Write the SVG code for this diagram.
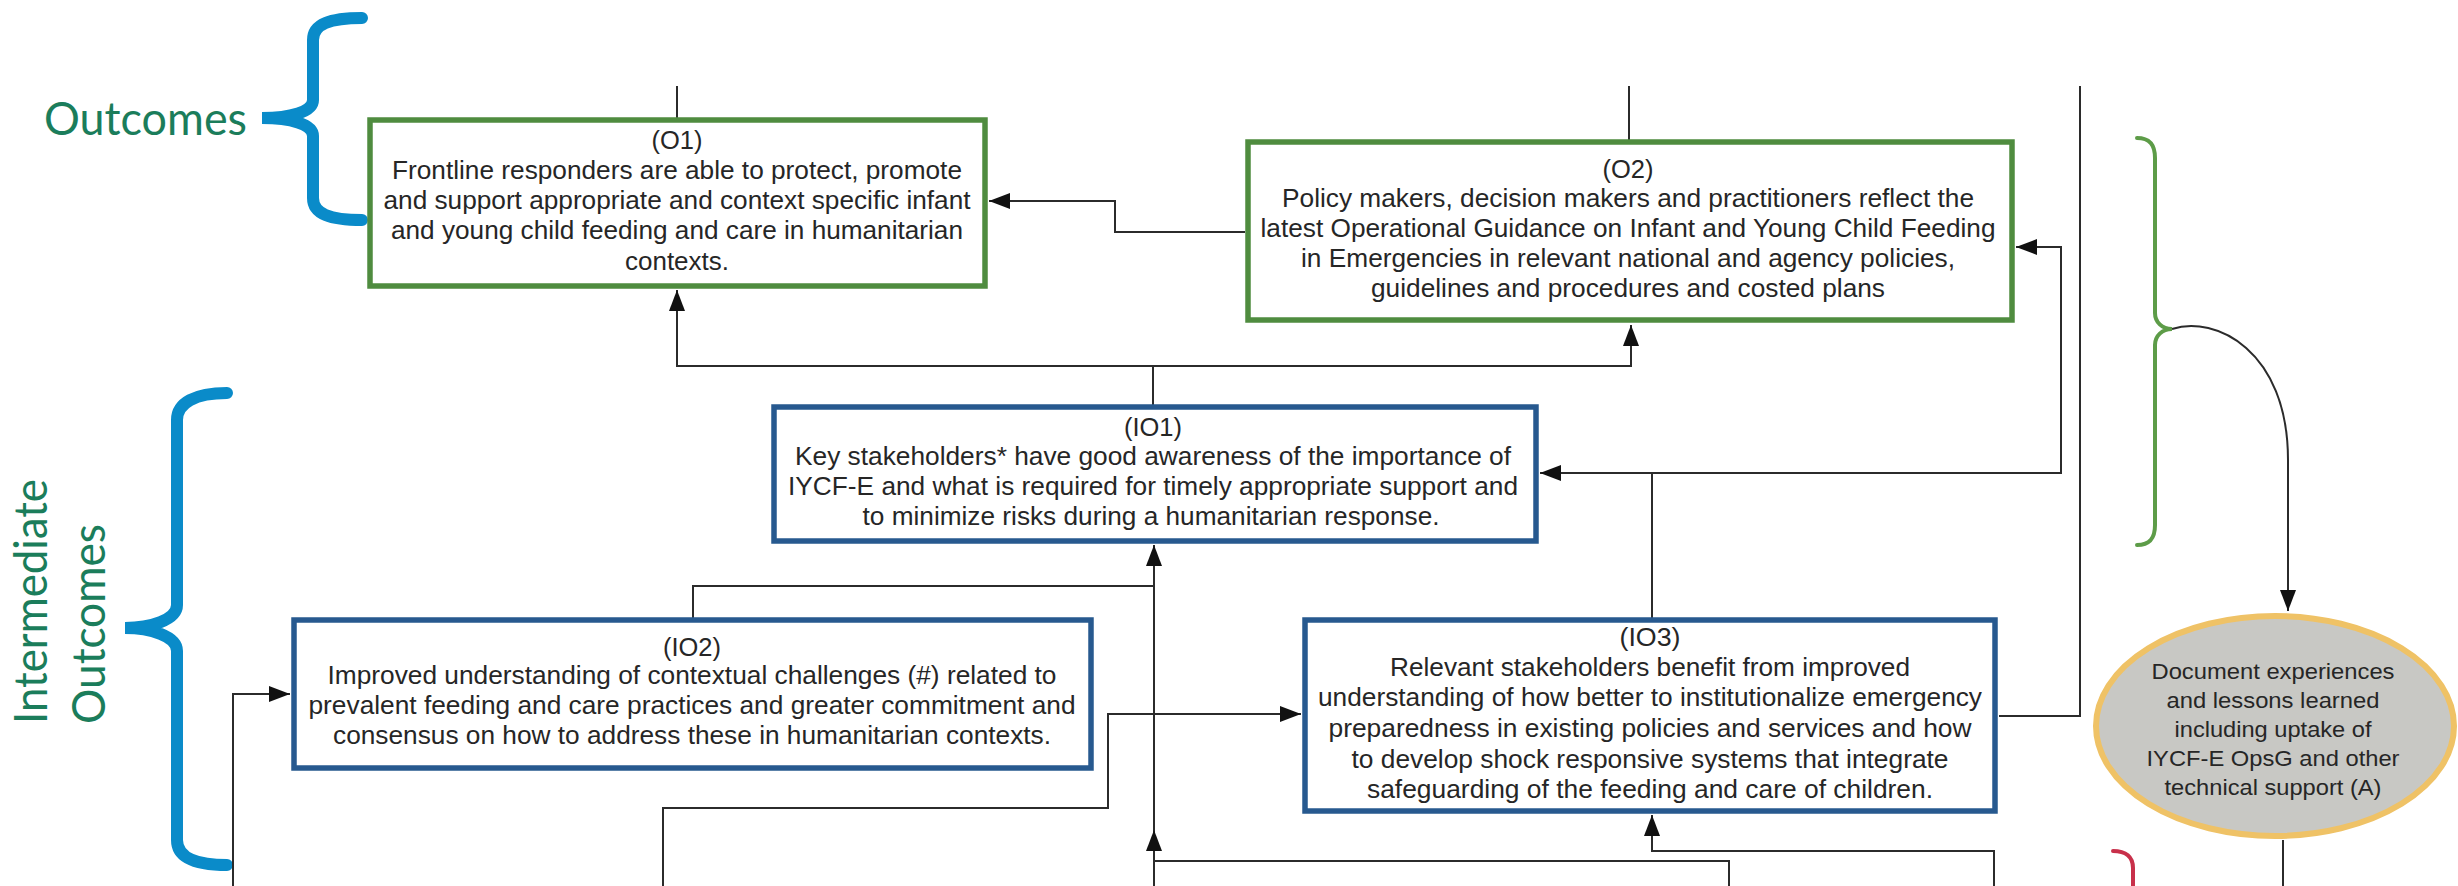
<svg xmlns="http://www.w3.org/2000/svg" width="2458" height="886" viewBox="0 0 2458 886">
<defs>
<style>
.lbl{font-family:Lato,"Liberation Sans",sans-serif;font-size:46px;fill:#1b7d5b}
.t{font-family:"Liberation Sans",Arial,sans-serif;font-size:26px;fill:#262626;text-anchor:middle}
.te{font-family:"Liberation Sans",Arial,sans-serif;font-size:22px;fill:#262626;text-anchor:middle}
.og{fill:#fff;stroke:#4f8c3f;stroke-width:5.5}
.ib{fill:#fff;stroke:#27598f;stroke-width:5.5}
.c{fill:none;stroke:#2b2b2b;stroke-width:2}
.ca{fill:none;stroke:#2b2b2b;stroke-width:2;marker-end:url(#ah)}
.bb{fill:none;stroke:#0a8bc9;stroke-width:12;stroke-linecap:round}
</style>
<marker id="ah" markerUnits="userSpaceOnUse" markerWidth="22" markerHeight="16" refX="21" refY="8" orient="auto">
<path d="M0,0 L21,8 L0,16 z" fill="#111"/>
</marker>
</defs>
<rect width="2458" height="886" fill="#fff"/>

<g id="label-outcomes">
<text class="lbl" x="44" y="135" textLength="203" lengthAdjust="spacingAndGlyphs">Outcomes</text>
<path class="bb" d="M362,18 C330,18 313,24 313,40 L313,100 C313,112 290,118 262,118 C290,118 313,124 313,136 L313,198 C313,214 330,220 362,220"/>
</g>

<g id="label-intermediate">
<text class="lbl" transform="translate(47,724) rotate(-90)" x="0" y="0" textLength="245" lengthAdjust="spacingAndGlyphs">Intermediate</text>
<text class="lbl" transform="translate(105,724) rotate(-90)" x="0" y="0" textLength="200" lengthAdjust="spacingAndGlyphs">Outcomes</text>
<path class="bb" d="M227,393 C195,393 177,403 177,420 L177,605 C177,620 150,628 125,628 C150,628 177,636 177,651 L177,840 C177,857 195,865 227,865"/>
</g>

<g id="connectors">
<path class="c" d="M677,86 L677,118"/>
<path class="c" d="M1629,86 L1629,140"/>
<path class="ca" d="M1245,232 L1115,232 L1115,201 L989,201"/>
<path class="ca" d="M1153,405 L1153,366 L677,366 L677,290"/>
<path class="ca" d="M1153,366 L1631,366 L1631,325"/>
<path class="ca" d="M1652,618 L1652,473 L1540,473"/>
<path class="ca" d="M1652,473 L2061,473 L2061,247 L2016,247"/>
<path class="c" d="M693,618 L693,586 L1154,586"/>
<path class="ca" d="M1729,886 L1729,861 L1154,861 L1154,545"/>
<path class="ca" d="M1154,886 L1154,830"/>
<path class="ca" d="M663,886 L663,808 L1108,808 L1108,714 L1301,714"/>
<path class="ca" d="M233,886 L233,694 L290,694"/>
<path class="ca" d="M1994,886 L1994,851 L1652,851 L1652,815"/>
<path class="c" d="M1999,716 L2080,716 L2080,86"/>
<path class="c" d="M2283,840 L2283,886"/>
<path class="ca" d="M2172,329 C2215,315 2288,350 2288,460 L2288,611"/>
</g>

<g id="O1">
<rect class="og" x="370" y="120" width="615" height="166"/>
<text class="t" x="677" y="149" textLength="51" lengthAdjust="spacingAndGlyphs">(O1)</text>
<text class="t" x="677" y="179" textLength="570" lengthAdjust="spacingAndGlyphs">Frontline responders are able to protect, promote</text>
<text class="t" x="677" y="209" textLength="587" lengthAdjust="spacingAndGlyphs">and support appropriate and context specific infant</text>
<text class="t" x="677" y="239" textLength="572" lengthAdjust="spacingAndGlyphs">and young child feeding and care in humanitarian</text>
<text class="t" x="677" y="270" textLength="104" lengthAdjust="spacingAndGlyphs">contexts.</text>
</g>

<g id="O2">
<rect class="og" x="1248" y="142" width="764" height="178"/>
<text class="t" x="1628" y="178" textLength="51" lengthAdjust="spacingAndGlyphs">(O2)</text>
<text class="t" x="1628" y="207" textLength="692" lengthAdjust="spacingAndGlyphs">Policy makers, decision makers and practitioners reflect the</text>
<text class="t" x="1628" y="237" textLength="735" lengthAdjust="spacingAndGlyphs">latest Operational Guidance on Infant and Young Child Feeding</text>
<text class="t" x="1628" y="267" textLength="654" lengthAdjust="spacingAndGlyphs">in Emergencies in relevant national and agency policies,</text>
<text class="t" x="1628" y="297" textLength="514" lengthAdjust="spacingAndGlyphs">guidelines and procedures and costed plans</text>
</g>

<g id="IO1">
<rect class="ib" x="774" y="407" width="762" height="134"/>
<text class="t" x="1153" y="436" textLength="58" lengthAdjust="spacingAndGlyphs">(IO1)</text>
<text class="t" x="1153" y="465" textLength="716" lengthAdjust="spacingAndGlyphs">Key stakeholders* have good awareness of the importance of</text>
<text class="t" x="1153" y="495" textLength="730" lengthAdjust="spacingAndGlyphs">IYCF-E and what is required for timely appropriate support and</text>
<text class="t" x="1151" y="525" textLength="577" lengthAdjust="spacingAndGlyphs">to minimize risks during a humanitarian response.</text>
</g>

<g id="IO2">
<rect class="ib" x="294" y="620" width="797" height="148"/>
<text class="t" x="692" y="656" textLength="58" lengthAdjust="spacingAndGlyphs">(IO2)</text>
<text class="t" x="692" y="684" textLength="729" lengthAdjust="spacingAndGlyphs">Improved understanding of contextual challenges (#) related to</text>
<text class="t" x="692" y="714" textLength="767" lengthAdjust="spacingAndGlyphs">prevalent feeding and care practices and greater commitment and</text>
<text class="t" x="692" y="744" textLength="718" lengthAdjust="spacingAndGlyphs">consensus on how to address these in humanitarian contexts.</text>
</g>

<g id="IO3">
<rect class="ib" x="1305" y="620" width="690" height="191"/>
<text class="t" x="1650" y="646" textLength="61" lengthAdjust="spacingAndGlyphs">(IO3)</text>
<text class="t" x="1650" y="676" textLength="520" lengthAdjust="spacingAndGlyphs">Relevant stakeholders benefit from improved</text>
<text class="t" x="1650" y="706" textLength="664" lengthAdjust="spacingAndGlyphs">understanding of how better to institutionalize emergency</text>
<text class="t" x="1650" y="737" textLength="643" lengthAdjust="spacingAndGlyphs">preparedness in existing policies and services and how</text>
<text class="t" x="1650" y="768" textLength="597" lengthAdjust="spacingAndGlyphs">to develop shock responsive systems that integrate</text>
<text class="t" x="1650" y="798" textLength="566" lengthAdjust="spacingAndGlyphs">safeguarding of the feeding and care of children.</text>
</g>

<g id="brace-right">
<path d="M2137,138 C2150,138 2155,145 2155,158 L2155,313 C2155,322 2162,329 2172,329 C2162,329 2155,336 2155,345 L2155,525 C2155,538 2150,545 2137,545" fill="none" stroke="#5d9c48" stroke-width="4" stroke-linecap="round"/>
</g>

<g id="A">
<ellipse cx="2275" cy="726" rx="179" ry="110" fill="#c8c8c4" stroke="#efc266" stroke-width="6"/>
<text class="te" x="2273" y="679" textLength="243" lengthAdjust="spacingAndGlyphs">Document experiences</text>
<text class="te" x="2273" y="708" textLength="213" lengthAdjust="spacingAndGlyphs">and lessons learned</text>
<text class="te" x="2273" y="737" textLength="197" lengthAdjust="spacingAndGlyphs">including uptake of</text>
<text class="te" x="2273" y="766" textLength="253" lengthAdjust="spacingAndGlyphs">IYCF-E OpsG and other</text>
<text class="te" x="2273" y="795" textLength="217" lengthAdjust="spacingAndGlyphs">technical support (A)</text>
</g>

<g id="brace-red">
<path d="M2113,851 C2126,851 2133,857 2133,868 L2133,886" fill="none" stroke="#c8304a" stroke-width="4" stroke-linecap="round"/>
</g>
</svg>
